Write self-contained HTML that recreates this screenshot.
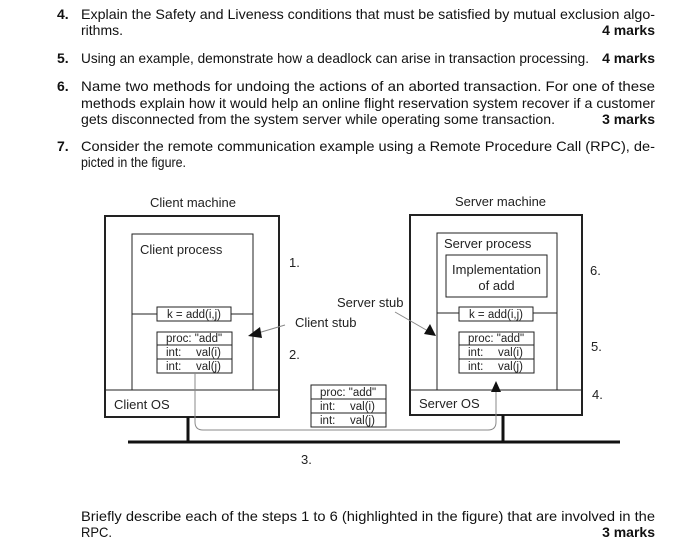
<!DOCTYPE html>
<html><head><meta charset="utf-8"><style>
html,body{margin:0;padding:0;background:#fff}
svg{display:block}
text{font-family:"Liberation Sans",Arial,sans-serif;fill:#111}
.q{font-size:14px}
.b{font-weight:bold}
.d{font-size:13px;fill:#222}
.s{font-size:11.5px;fill:#222}
</style></head><body>
<svg width="700" height="546" viewBox="0 0 700 546" xmlns="http://www.w3.org/2000/svg">
<text class="q b" x="57" y="19">4.</text>
<text class="q" x="81" y="19" textLength="574" lengthAdjust="spacingAndGlyphs">Explain the Safety and Liveness conditions that must be satisfied by mutual exclusion algo-</text>
<text class="q" x="81" y="35" textLength="42" lengthAdjust="spacingAndGlyphs">rithms.</text>
<text class="q b" x="655" y="35" text-anchor="end">4 marks</text>
<text class="q b" x="57" y="63">5.</text>
<text class="q" x="81" y="63" textLength="508" lengthAdjust="spacingAndGlyphs">Using an example, demonstrate how a deadlock can arise in transaction processing.</text>
<text class="q b" x="655" y="63" text-anchor="end">4 marks</text>
<text class="q b" x="57" y="91">6.</text>
<text class="q" x="81" y="91" textLength="574" lengthAdjust="spacingAndGlyphs">Name two methods for undoing the actions of an aborted transaction.  For one of these</text>
<text class="q" x="81" y="108" textLength="574" lengthAdjust="spacingAndGlyphs">methods explain how it would help an online flight reservation system recover if a customer</text>
<text class="q" x="81" y="124" textLength="474" lengthAdjust="spacingAndGlyphs">gets disconnected from the system server while operating some transaction.</text>
<text class="q b" x="655" y="124" text-anchor="end">3 marks</text>
<text class="q b" x="57" y="151">7.</text>
<text class="q" x="81" y="151" textLength="574" lengthAdjust="spacingAndGlyphs">Consider the remote communication example using a Remote Procedure Call (RPC), de-</text>
<text class="q" x="81" y="167" textLength="105" lengthAdjust="spacingAndGlyphs">picted in the figure.</text>

<g fill="none" stroke="#222">
<rect x="105" y="216" width="174" height="201" stroke-width="2"/>
<line x1="105" y1="390" x2="279" y2="390" stroke-width="1"/>
<rect x="132" y="234" width="121" height="156" stroke-width="1"/>
<line x1="132" y1="314" x2="157" y2="314"/><line x1="231" y1="314" x2="253" y2="314"/>
<rect x="157" y="307" width="74" height="14"/>
<rect x="157" y="332" width="75" height="41"/>
<line x1="157" y1="345" x2="232" y2="345"/><line x1="157" y1="359" x2="232" y2="359"/>

<rect x="410" y="215" width="172" height="200" stroke-width="2"/>
<line x1="410" y1="390" x2="582" y2="390"/>
<rect x="437" y="233" width="120" height="157"/>
<rect x="446" y="255" width="101" height="42"/>
<line x1="437" y1="313" x2="459" y2="313"/><line x1="533" y1="313" x2="557" y2="313"/>
<rect x="459" y="307" width="74" height="14"/>
<rect x="459" y="332" width="75" height="41"/>
<line x1="459" y1="345" x2="534" y2="345"/><line x1="459" y1="359" x2="534" y2="359"/>

<rect x="311" y="385" width="75" height="42"/>
<line x1="311" y1="399" x2="386" y2="399"/><line x1="311" y1="413" x2="386" y2="413"/>

<path d="M195 373 V422 Q195 430 203 430 H488 Q496 430 496 422 V388" stroke="#888" stroke-width="1"/>
<line x1="128" y1="442" x2="620" y2="442" stroke-width="3" stroke="#111"/>
<line x1="188" y1="417" x2="188" y2="442" stroke-width="3" stroke="#111"/>
<line x1="503" y1="415" x2="503" y2="442" stroke-width="3" stroke="#111"/>
<line x1="285" y1="325" x2="258" y2="333" stroke="#888"/>
<line x1="395" y1="312" x2="428" y2="331" stroke="#888"/>
</g>
<polygon points="248,336 260,327 262,338" fill="#111"/>
<polygon points="436,336 424,334 430,324" fill="#111"/>
<polygon points="496,381 491,392 501,392" fill="#111"/>

<text class="d" x="150" y="207">Client machine</text>
<text class="d" x="455" y="206">Server machine</text>
<text class="d" x="140" y="254">Client process</text>
<text class="d" x="444" y="248">Server process</text>
<text class="d" x="496.5" y="274" text-anchor="middle">Implementation</text>
<text class="d" x="496.5" y="290" text-anchor="middle">of add</text>
<text class="d" x="114" y="409">Client OS</text>
<text class="d" x="419" y="408">Server OS</text>
<text class="d" x="337" y="307">Server stub</text>
<text class="d" x="295" y="327">Client stub</text>
<text class="d" x="289" y="267">1.</text>
<text class="d" x="289" y="359">2.</text>
<text class="d" x="301" y="464">3.</text>
<text class="d" x="592" y="399">4.</text>
<text class="d" x="591" y="351">5.</text>
<text class="d" x="590" y="275">6.</text>

<text class="s" x="194" y="318" text-anchor="middle">k = add(i,j)</text>
<text class="s" x="496" y="318" text-anchor="middle">k = add(i,j)</text>
<text class="s" x="166" y="342">proc: "add"</text>
<text class="s" x="166" y="356">int:</text><text class="s" x="196" y="356">val(i)</text>
<text class="s" x="166" y="370">int:</text><text class="s" x="196" y="370">val(j)</text>
<text class="s" x="468" y="342">proc: "add"</text>
<text class="s" x="468" y="356">int:</text><text class="s" x="498" y="356">val(i)</text>
<text class="s" x="468" y="370">int:</text><text class="s" x="498" y="370">val(j)</text>
<text class="s" x="320" y="396">proc: "add"</text>
<text class="s" x="320" y="410">int:</text><text class="s" x="350" y="410">val(i)</text>
<text class="s" x="320" y="424">int:</text><text class="s" x="350" y="424">val(j)</text>

<text class="q" x="81" y="521" textLength="574" lengthAdjust="spacingAndGlyphs">Briefly describe each of the steps 1 to 6 (highlighted in the figure) that are involved in the</text>
<text class="q" x="81" y="537" textLength="31" lengthAdjust="spacingAndGlyphs">RPC.</text>
<text class="q b" x="655" y="537" text-anchor="end">3 marks</text>
</svg>
</body></html>
